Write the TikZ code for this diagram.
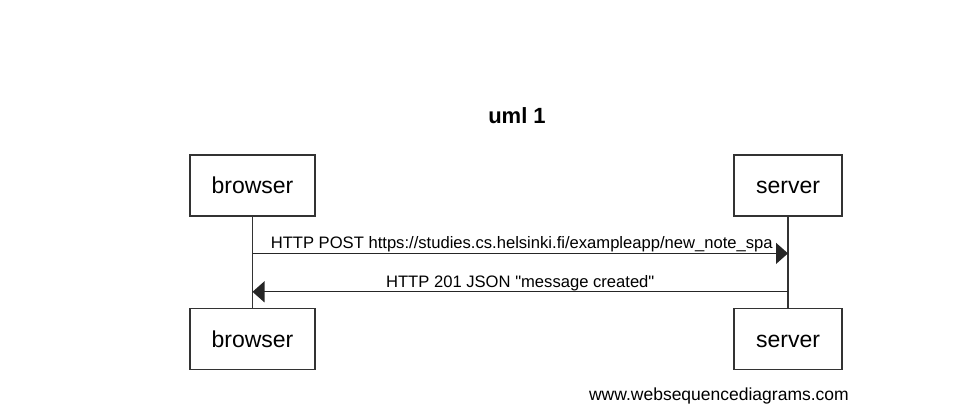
\documentclass[tikz,border=0pt]{standalone}
\usepackage{fontspec}
\setmainfont{Liberation Sans}
\usetikzlibrary{arrows.meta, calc}
\tikzstyle{actor} = [rectangle, minimum height=61pt, text height=16.5pt, text depth=0pt, text centered, draw=black!80, line width=1.2pt, font=\fontsize{23}{27}\selectfont]
\tikzstyle{lifeline} = [draw=black!80, line width=1.2pt]
\tikzstyle{message} = [draw=black!85, line width=1.2pt, -{Triangle[length=12pt, width=21pt]}]
\tikzstyle{msglabel} = [midway, anchor=base, yshift=4.5pt, inner sep=0pt, font=\fontsize{16.6}{19}\selectfont]

\begin{document}
\begin{tikzpicture}[x=1pt, y=1pt, node distance=153.5pt]
    \useasboundingbox (0,0) rectangle (970,-417);
    \node (Title) [anchor=base, font=\fontsize{22}{26}\selectfont\bfseries] at (517,-123.3) {uml 1};
    \node (Browser) [actor, minimum width=125pt] at (252.5,-185.5) {browser};
    \node (Server) [actor, minimum width=108pt] at (788,-185.5) {server};
    \node (BrowserEnd) [actor, minimum width=125pt, below of = Browser] {browser};
    \node (ServerEnd) [actor, minimum width=108pt, below of = Server] {server};
    \draw [lifeline] (Browser) -- (BrowserEnd);
    \draw [lifeline] (Server) -- (ServerEnd);
    \draw [message] ($(Browser.south)!0.403!(BrowserEnd.north)$) -- ($(Server.south)!0.403!(ServerEnd.north)$)
        node [msglabel, xshift=1.5pt] {HTTP POST https://studies.cs.helsinki.fi/exampleapp/new\_note\_spa};
    \draw [message] ($(Server.south)!0.824!(ServerEnd.north)$) -- ($(Browser.south)!0.824!(BrowserEnd.north)$)
        node [msglabel] {HTTP 201 JSON \textquotedbl message created\textquotedbl};
    \node (Footer) [anchor=base east, inner sep=0pt, font=\fontsize{17.5}{20}\selectfont] at (849,-400) {www.websequencediagrams.com};
    \end{tikzpicture}
\end{document}
